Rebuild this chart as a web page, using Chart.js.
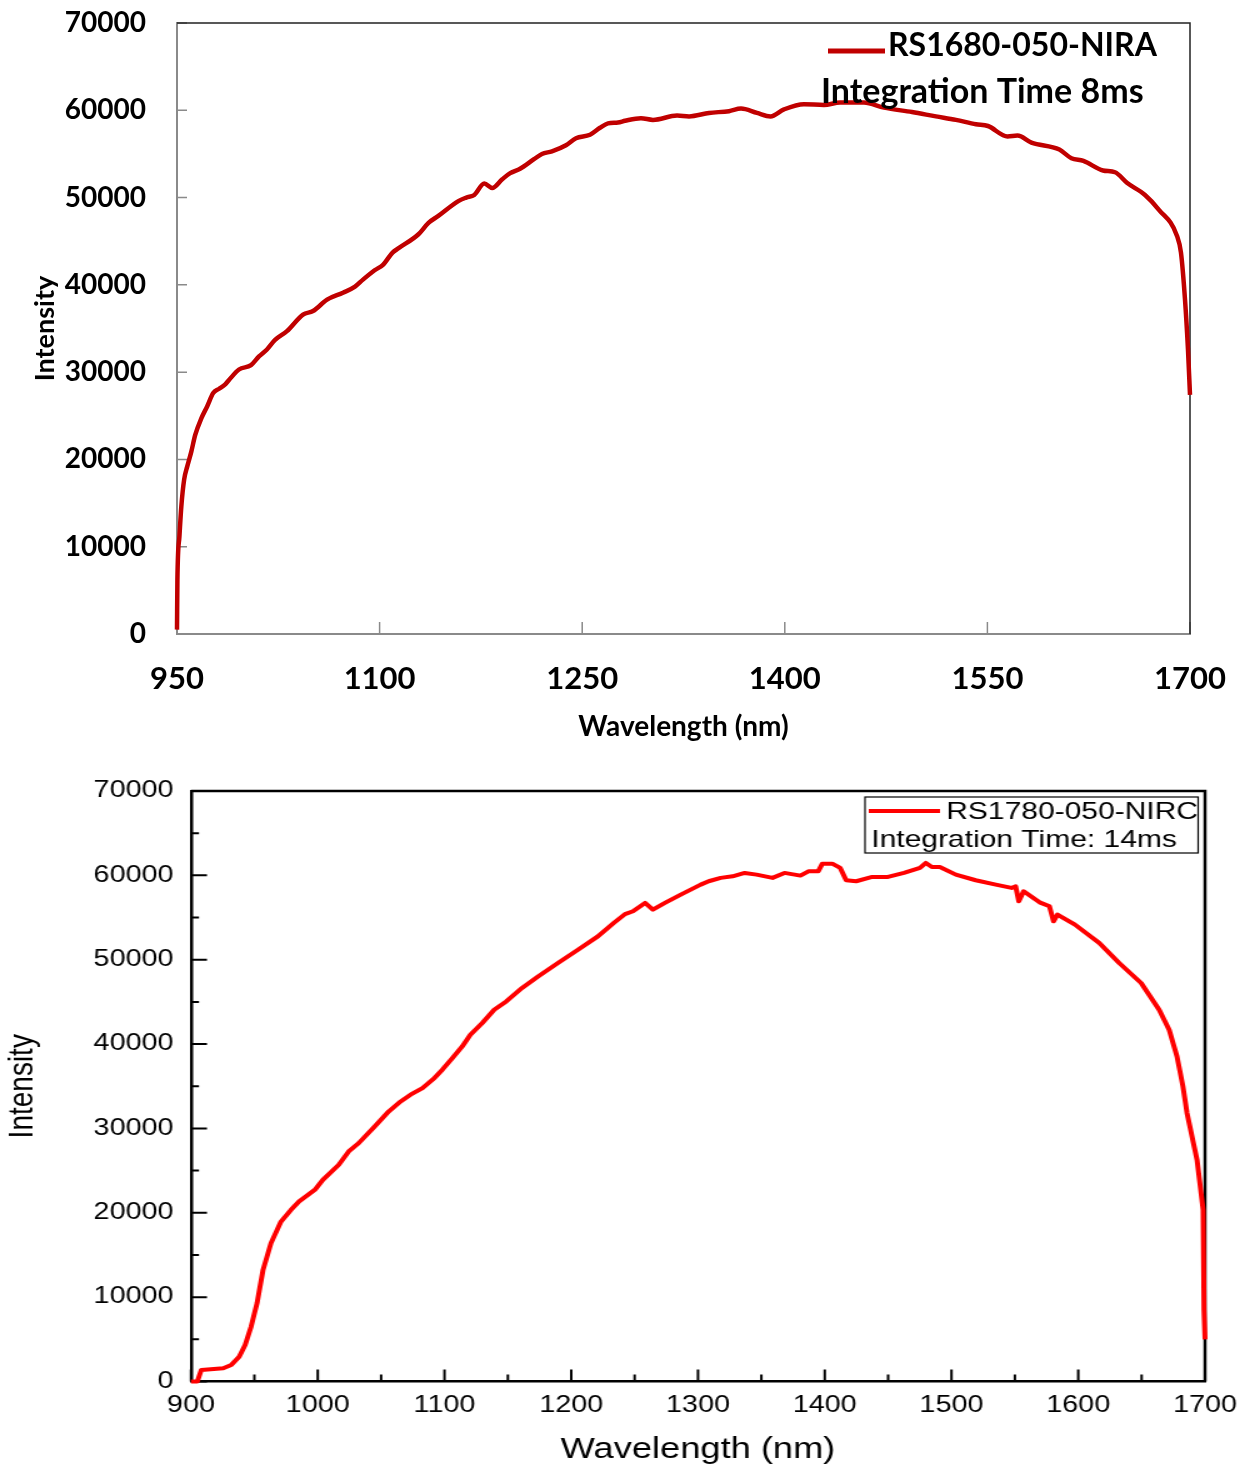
<!DOCTYPE html>
<html>
<head>
<meta charset="utf-8">
<script src="https://cdn.jsdelivr.net/npm/chart.js@4.4.1/dist/chart.umd.min.js"></script>
<style>
  html, body { margin: 0; padding: 0; background: #fff; }
  #wrap { position: relative; width: 1250px; height: 1467px; overflow: hidden; }
  #chartA { position: absolute; left: 0; top: 0; }
  /* the lower figure is a horizontally stretched picture, so stretch it too */
  #chartB { position: absolute; left: 0; top: 750px; transform: scaleX(1.25); transform-origin: 0 0; }
</style>
</head>
<body>
<div id="wrap">
  <canvas id="chartA" width="1250" height="750"></canvas>
  <canvas id="chartB" width="1000" height="717"></canvas>
</div>
<script>
// top panel: RS1680-050-NIRA, 8 ms
var wavelengthA = [950, 950.3, 951.8, 953.2, 955.3, 957.6, 960.6, 963.5, 968, 972.4,
  976.8, 981.2, 985.7, 988.5, 995.9, 1004.8, 1010.7, 1016.6, 1022.6, 1031.4,
  1043.3, 1050.7, 1061.1, 1072.9, 1081.8, 1087.7, 1096.6, 1102.5, 1109.6, 1114.1,
  1128.8, 1136.2, 1143.5, 1158.3, 1164.2, 1170.1, 1177.5, 1183.4, 1190.8, 1196.7,
  1204.0, 1214.3, 1220.2, 1227.6, 1238.0, 1245.4, 1255.8, 1263.2, 1269.1, 1276.5,
  1281.7, 1293.5, 1302.4, 1320.2, 1329.1, 1343.9, 1358.7, 1367.6, 1379.4, 1389.4,
  1399.4, 1414.2, 1429.0, 1440.9, 1458.6, 1473.4, 1494.2, 1511.9, 1526.7, 1541.5,
  1550.4, 1564.9, 1572.3, 1582.6, 1603.3, 1612.2, 1621.1, 1635.6, 1644.5, 1653.3,
  1666.7, 1677.0, 1690.4, 1693.3, 1696.3, 1698.5, 1700];
var intensityA = [500, 6200, 11200, 14600, 17700, 19200, 20900, 22800, 24700, 26100,
  27600, 28100, 28600, 29100, 30300, 30800, 31800, 32600, 33700, 34700,
  36600, 37000, 38300, 39100, 39800, 40600, 41700, 42300, 43700, 44200,
  45800, 47100, 47900, 49600, 50000, 50300, 51600, 51100, 52100, 52800,
  53300, 54400, 55000, 55300, 56000, 56800, 57200, 58000, 58500, 58600,
  58800, 59100, 58900, 59400, 59300, 59700, 59900, 60200, 59700, 59300,
  60100, 60700, 60600, 60900, 60900, 60300, 59800, 59300, 58900, 58400,
  58200, 57000, 57100, 56300, 55500, 54500, 54200, 53100, 52900, 51700,
  50300, 48600, 45600, 43700, 38300, 32600, 27400];
var xTicksA = [950, 1100, 1250, 1400, 1550, 1700];
var yTicksA = [0, 10000, 20000, 30000, 40000, 50000, 60000, 70000];
var labelA = 'RS1680-050-NIRA';
var noteA = 'Integration Time 8ms';

// bottom panel: RS1780-050-NIRC, 14 ms
var wavelengthB = [900, 905, 908.1, 925.4, 931.7, 938, 942.7, 947.4, 952.1, 956.8,
  963.1, 971, 978.9, 985.2, 997.7, 1004, 1016.6, 1024.4, 1032.3, 1044.9,
  1055.9, 1065.4, 1073.2, 1082.6, 1092, 1098.3, 1106.2, 1114, 1120.4, 1129.8,
  1139.2, 1148.7, 1161.2, 1173.8, 1189.5, 1205.3, 1221, 1233.6, 1242.4, 1248.7,
  1258.2, 1264.4, 1273.9, 1286.4, 1302.1, 1308.4, 1317.9, 1327.3, 1336.8, 1346.2,
  1358.8, 1368.2, 1380.8, 1387.1, 1394.9, 1398.1, 1405.9, 1412.2, 1416.9, 1424.8,
  1437.4, 1449.9, 1462.5, 1475.1, 1479.8, 1484.5, 1490.8, 1503.4, 1519.1, 1534.9,
  1547.4, 1550.6, 1553.1, 1556.9, 1569.5, 1577.3, 1580.5, 1583.6, 1597.4, 1616.6,
  1632.3, 1649.6, 1663.8, 1671.7, 1677.9, 1682.6, 1685.8, 1693.7, 1698.5, 1699.2,
  1700];
var intensityB = [0, 0, 1360, 1570, 1960, 2940, 4330, 6500, 9280, 13200,
  16400, 18960, 20350, 21330, 22720, 23900, 25690, 27270, 28260, 30230,
  32000, 33200, 34000, 34780, 35970, 36960, 38340, 39720, 41110, 42500,
  44070, 45060, 46650, 48020, 49610, 51190, 52770, 54360, 55400, 55740,
  56730, 55940, 56730, 57720, 58900, 59300, 59700, 59890, 60290, 60090,
  59700, 60290, 59970, 60480, 60480, 61390, 61390, 60880, 59420, 59300,
  59810, 59810, 60290, 60880, 61470, 61000, 61000, 60090, 59420, 58900,
  58510, 58700, 56920, 58110, 56800, 56330, 54550, 55340, 54160, 51990,
  49610, 47240, 44070, 41700, 38530, 34970, 31820, 26280, 20350, 8490,
  5000];
var xTicksB = [900, 1000, 1100, 1200, 1300, 1400, 1500, 1600, 1700];
var yTicksB = [0, 10000, 20000, 30000, 40000, 50000, 60000, 70000];
var labelB = 'RS1780-050-NIRC';
var noteB = 'Integration Time: 14ms';

function points(xs, ys) {
  return xs.map(function (x, i) { return { x: x, y: ys[i] }; });
}
function midpoints(arr) {
  var out = [];
  for (var i = 1; i < arr.length; i++) out.push((arr[i - 1] + arr[i]) / 2);
  return out;
}
function fixedTicks(list) {
  return function (s) { s.ticks = list.map(function (v) { return { value: v }; }); };
}
// pin the axis box size; drop the label overhang so it can't shrink the plot
function boxSize(w, h) {
  return function (s) {
    if (w !== null) s.width = w;
    if (h !== null) s.height = h;
    s.paddingTop = s.paddingBottom = s.paddingLeft = s.paddingRight = 0;
  };
}
function plain(v) { return String(v); }

// inward tick marks plus the top/right edges of the frame
function frameTicks(cfg) {
  return {
    id: 'frameTicks',
    beforeDatasetsDraw: function (chart) {
      var ctx = chart.ctx, a = chart.chartArea;
      var xs = chart.scales.x, ys = chart.scales.y;
      ctx.save();
      ctx.strokeStyle = cfg.tickColor;
      ctx.lineWidth = cfg.tickWidth;
      ctx.beginPath();
      cfg.yMajor.forEach(function (v) {
        var p = ys.getPixelForValue(v);
        ctx.moveTo(a.left, p); ctx.lineTo(a.left + cfg.yLen, p);
      });
      (cfg.yMinor || []).forEach(function (v) {
        var p = ys.getPixelForValue(v);
        ctx.moveTo(a.left, p); ctx.lineTo(a.left + cfg.yLen / 2, p);
      });
      cfg.xMajor.forEach(function (v) {
        var p = xs.getPixelForValue(v);
        ctx.moveTo(p, a.bottom); ctx.lineTo(p, a.bottom - cfg.xLen);
      });
      (cfg.xMinor || []).forEach(function (v) {
        var p = xs.getPixelForValue(v);
        ctx.moveTo(p, a.bottom); ctx.lineTo(p, a.bottom - cfg.xLen * 0.58);
      });
      ctx.stroke();
      ctx.strokeStyle = cfg.frameColor;
      ctx.lineWidth = cfg.frameWidth;
      ctx.beginPath();
      ctx.moveTo(a.left, a.top);
      ctx.lineTo(a.right, a.top);
      ctx.lineTo(a.right, a.bottom);
      ctx.stroke();
      ctx.restore();
    }
  };
}

// legend A: no box, bold text
var legendA = {
  id: 'legendA',
  afterDatasetsDraw: function (chart) {
    var ctx = chart.ctx;
    ctx.save();
    ctx.strokeStyle = '#C00000';
    ctx.lineWidth = 5;
    ctx.beginPath(); ctx.moveTo(828, 51); ctx.lineTo(885, 51); ctx.stroke();
    ctx.fillStyle = '#000';
    ctx.textBaseline = 'middle';
    ctx.textAlign = 'left';
    ctx.font = 'bold 32px Lato';
    ctx.fillText(chart.data.datasets[0].label, 888, 46);
    ctx.font = 'bold 34px Lato';
    ctx.fillText(noteA, 821, 92);
    ctx.restore();
  }
};

// legend B: boxed, regular text
var legendB = {
  id: 'legendB',
  afterDatasetsDraw: function (chart) {
    var ctx = chart.ctx;
    ctx.save();
    ctx.fillStyle = '#fff';
    ctx.fillRect(692, 47, 266.5, 56);
    ctx.strokeStyle = '#000';
    ctx.lineWidth = 1.2;
    ctx.strokeRect(692, 47, 266.5, 56);
    ctx.strokeStyle = '#FF0000';
    ctx.lineWidth = 4;
    ctx.beginPath(); ctx.moveTo(695, 61); ctx.lineTo(752, 61); ctx.stroke();
    ctx.fillStyle = '#000';
    ctx.font = '24px "Liberation Sans"';
    ctx.textBaseline = 'middle';
    ctx.textAlign = 'left';
    ctx.fillText(chart.data.datasets[0].label, 757, 62);
    ctx.fillText(noteB, 697, 90);
    ctx.restore();
  }
};

Chart.defaults.color = '#000';

new Chart(document.getElementById('chartA').getContext('2d'), {
  type: 'line',
  data: {
    datasets: [{
      label: labelA,
      data: points(wavelengthA, intensityA),
      borderColor: '#C00000',
      borderWidth: 4.5,
      pointRadius: 0,
      cubicInterpolationMode: 'monotone',
      fill: false,
      clip: 6
    }]
  },
  options: {
    responsive: false,
    animation: false,
    layout: { padding: { left: 0, top: 23, right: 60, bottom: 0 } },
    scales: {
      x: {
        type: 'linear', min: 950, max: 1700,
        afterBuildTicks: fixedTicks(xTicksA),
        afterFit: boxSize(null, 116),
        grid: { display: false, drawTicks: false },
        border: { display: true, color: '#8a8a8a', width: 2 },
        ticks: {
          callback: plain, padding: 26, maxRotation: 0, autoSkip: false,
          font: { family: 'Lato', weight: 'bold', size: 31 }
        },
        title: {
          display: true, text: 'Wavelength (nm)',
          font: { family: 'Lato', weight: 'bold', size: 28 },
          padding: { top: 0, bottom: 6 }
        }
      },
      y: {
        min: 0, max: 70000,
        afterBuildTicks: fixedTicks(yTicksA),
        afterFit: boxSize(177, null),
        grid: { display: false, drawTicks: false },
        border: { display: true, color: '#8a8a8a', width: 2 },
        ticks: {
          callback: plain, padding: 31,
          font: { family: 'Lato', weight: 'bold', size: 28 }
        },
        title: {
          display: true, text: 'Intensity',
          font: { family: 'Lato', weight: 'bold', size: 27 },
          padding: { top: 29, bottom: 0 }
        }
      }
    },
    plugins: { legend: { display: false }, tooltip: { enabled: false } }
  },
  plugins: [frameTicks({
    tickColor: '#8a8a8a', tickWidth: 1.5, yLen: 10, xLen: 12,
    yMajor: yTicksA, xMajor: xTicksA,
    frameColor: '#222', frameWidth: 1.5
  }), legendA]
});

new Chart(document.getElementById('chartB').getContext('2d'), {
  type: 'line',
  data: {
    datasets: [{
      label: labelB,
      data: points(wavelengthB, intensityB),
      borderColor: '#FF0000',
      borderWidth: 4,
      borderJoinStyle: 'round',
      pointRadius: 0,
      tension: 0,
      fill: false,
      clip: 6
    }]
  },
  options: {
    responsive: false,
    animation: false,
    layout: { padding: { left: 0, top: 41, right: 36, bottom: 0 } },
    scales: {
      x: {
        type: 'linear', min: 900, max: 1700,
        afterBuildTicks: fixedTicks(xTicksB),
        afterFit: boxSize(null, 85.5),
        grid: { display: false, drawTicks: false },
        border: { display: true, color: '#000', width: 2.5 },
        ticks: {
          callback: plain, padding: 10, maxRotation: 0, autoSkip: false,
          font: { family: 'Liberation Sans', size: 23 }
        },
        title: {
          display: true, text: 'Wavelength (nm)',
          font: { family: 'Liberation Sans', size: 29 },
          padding: { top: 0, bottom: 0 }
        }
      },
      y: {
        min: 0, max: 70000,
        afterBuildTicks: fixedTicks(yTicksB),
        afterFit: boxSize(152.8, null),
        grid: { display: false, drawTicks: false },
        border: { display: true, color: '#000', width: 2.5 },
        ticks: {
          callback: plain, padding: 14,
          font: { family: 'Liberation Sans', size: 23 }
        },
        title: {
          display: true, text: 'Intensity',
          font: { family: 'Liberation Sans', size: 28 },
          padding: { top: 1, bottom: 0 }
        }
      }
    },
    plugins: { legend: { display: false }, tooltip: { enabled: false } }
  },
  plugins: [frameTicks({
    tickColor: '#000', tickWidth: 2, yLen: 12.8, xLen: 12,
    yMajor: yTicksB, yMinor: midpoints(yTicksB),
    xMajor: xTicksB, xMinor: midpoints(xTicksB),
    frameColor: '#000', frameWidth: 2.5
  }), legendB]
});
</script>
</body>
</html>
